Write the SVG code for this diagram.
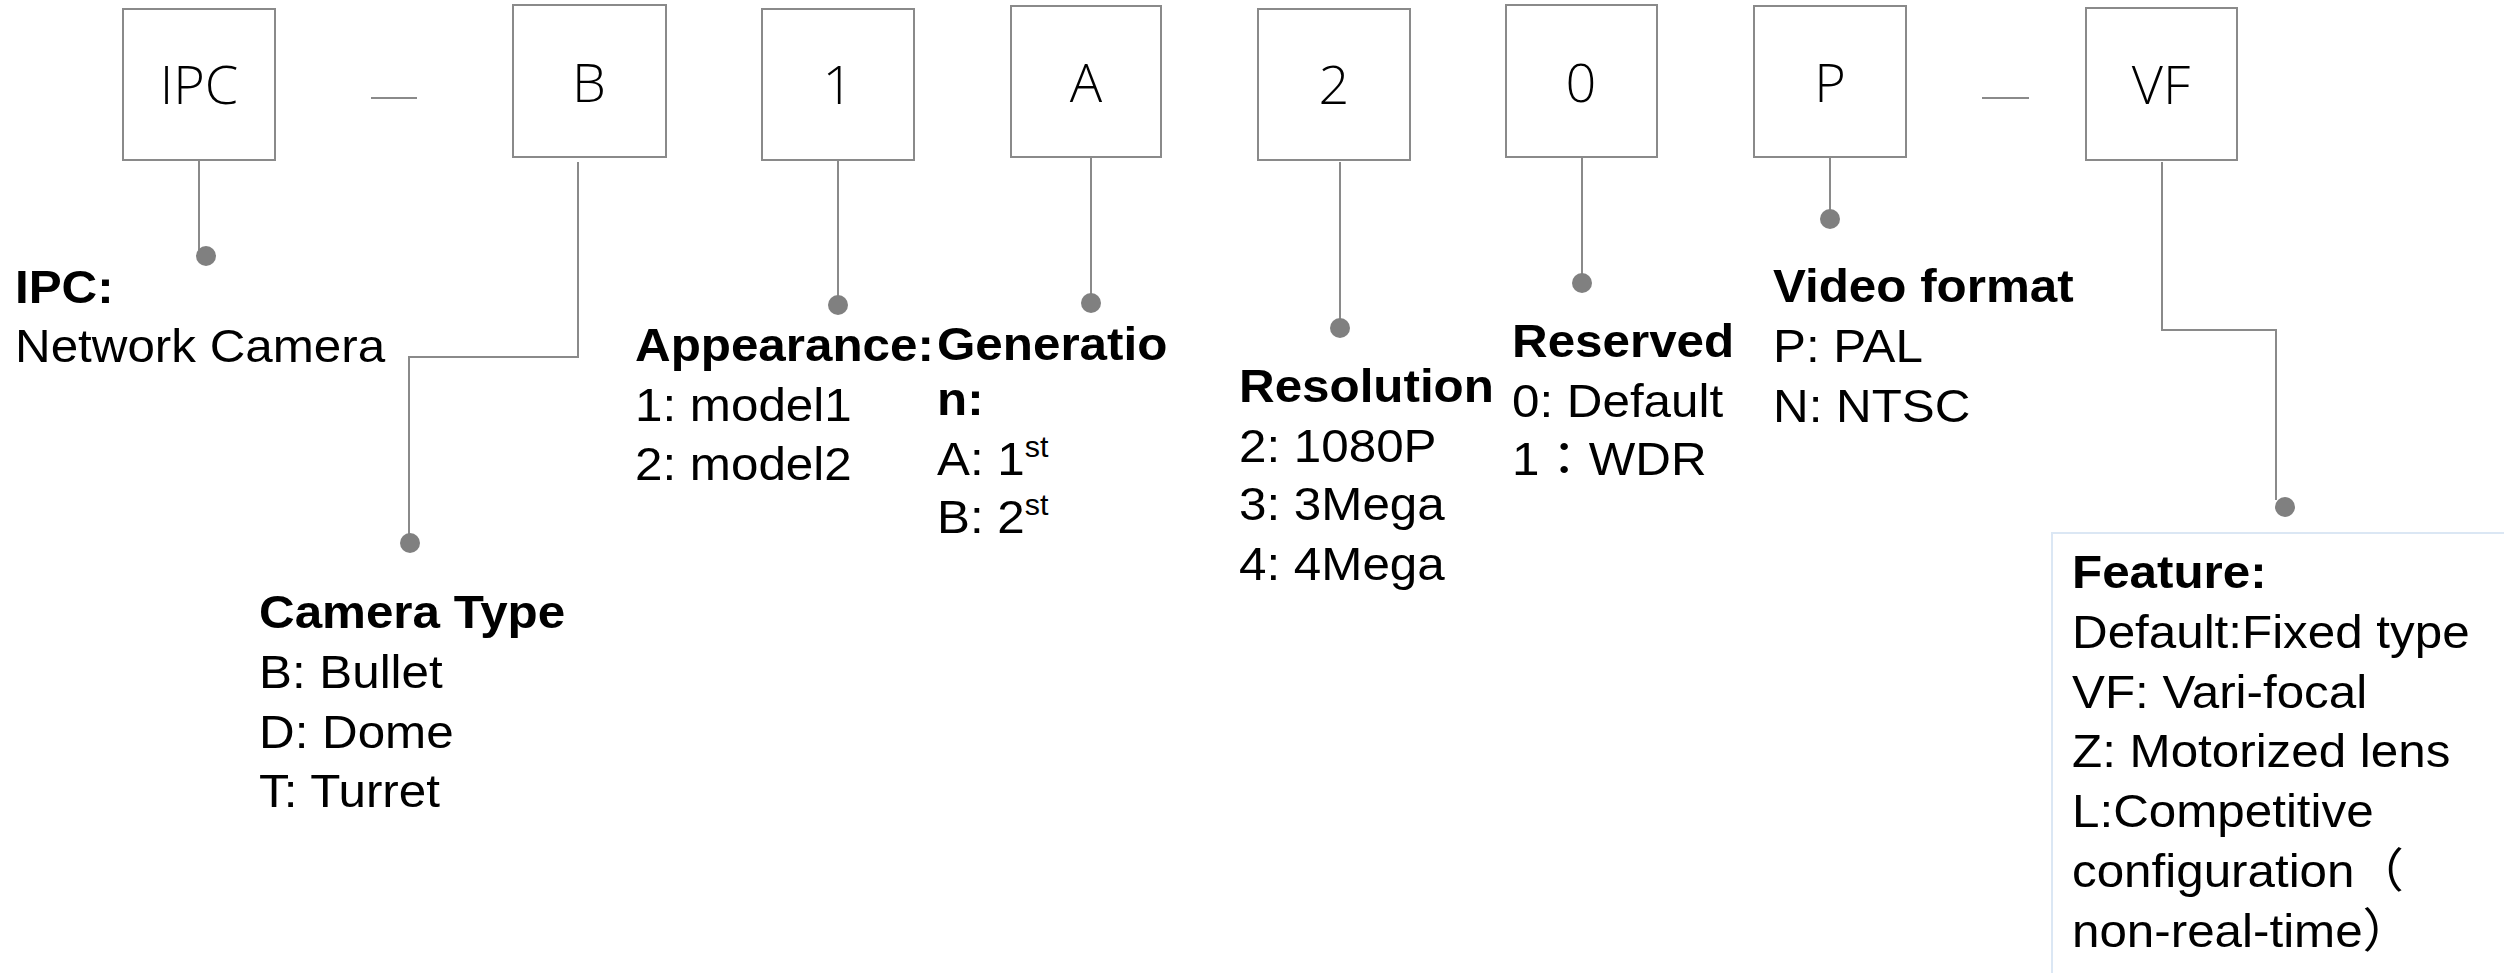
<svg xmlns="http://www.w3.org/2000/svg" width="2504" height="973" viewBox="0 0 2504 973">
<style>
.box{fill:#fff;stroke:#8a8a8a;stroke-width:2}
.code{font-family:"Open Sans","Noto Sans",sans-serif;font-weight:300;font-size:54px;fill:#000;text-anchor:middle}
.ln{fill:none;stroke:#8a8a8a;stroke-width:2}
.dot{fill:#808080}
.t{font-family:"Liberation Sans",Arial,"Noto Sans CJK JP",sans-serif;font-size:47px;fill:#000}
.b{font-weight:bold}
.sup{font-size:29px}
.fbox{fill:#fff;stroke:#dbe7f4;stroke-width:2}
</style>
<rect width="2504" height="973" fill="#fff"/>
<g id="connectors">
<path class="ln" d="M371 98H417"/>
<path class="ln" d="M1982 98H2029"/>
<path class="ln" d="M199 160V250"/>
<circle class="dot" cx="206" cy="256" r="10"/>
<path class="ln" d="M578 162V357H409V536"/>
<circle class="dot" cx="410" cy="543" r="10"/>
<path class="ln" d="M838 160V298"/>
<circle class="dot" cx="838" cy="305" r="10"/>
<path class="ln" d="M1091 157V296"/>
<circle class="dot" cx="1091" cy="303" r="10"/>
<path class="ln" d="M1340 162V321"/>
<circle class="dot" cx="1340" cy="328" r="10"/>
<path class="ln" d="M1582 157V276"/>
<circle class="dot" cx="1582" cy="283" r="10"/>
<path class="ln" d="M1830 157V212"/>
<circle class="dot" cx="1830" cy="219" r="10"/>
<path class="ln" d="M2162 162V330H2276V500"/>
<circle class="dot" cx="2285" cy="507" r="10"/>
</g>
<g id="node-ipc">
<rect class="box" x="123" y="9" width="152" height="151"/>
<text class="code" x="199" y="104">IPC</text>
</g>
<g id="node-b">
<rect class="box" x="513" y="5" width="153" height="152"/>
<text class="code" x="589" y="102">B</text>
</g>
<g id="node-1">
<rect class="box" x="762" y="9" width="152" height="151"/>
<text class="code" x="838" y="104">1</text>
</g>
<g id="node-a">
<rect class="box" x="1011" y="6" width="150" height="151"/>
<text class="code" x="1086" y="102">A</text>
</g>
<g id="node-2">
<rect class="box" x="1258" y="9" width="152" height="151"/>
<text class="code" x="1334" y="104">2</text>
</g>
<g id="node-0">
<rect class="box" x="1506" y="5" width="151" height="152"/>
<text class="code" x="1581" y="102">0</text>
</g>
<g id="node-p">
<rect class="box" x="1754" y="6" width="152" height="151"/>
<text class="code" x="1830" y="102">P</text>
</g>
<g id="node-vf">
<rect class="box" x="2086" y="8" width="151" height="152"/>
<text class="code" x="2161" y="104">VF</text>
</g>
<g id="label-ipc" transform="translate(15 0) scale(1.05 1)">
<text class="t b" x="0" y="303">IPC:</text>
<text class="t" x="0" y="362">Network Camera</text>
</g>
<g id="label-camera-type" transform="translate(259 0) scale(1.05 1)">
<text class="t b" x="0" y="628">Camera Type</text>
<text class="t" x="0" y="688">B: Bullet</text>
<text class="t" x="0" y="748">D: Dome</text>
<text class="t" x="0" y="807">T: Turret</text>
</g>
<g id="label-appearance" transform="translate(635 0) scale(1.05 1)">
<text class="t b" x="0" y="361">Appearance:</text>
<text class="t" x="0" y="421">1: model1</text>
<text class="t" x="0" y="480">2: model2</text>
</g>
<g id="label-generation" transform="translate(937 0) scale(1.05 1)">
<text class="t b" x="0" y="360">Generatio</text>
<text class="t b" x="0" y="415">n:</text>
<text class="t" x="0" y="475">A: 1<tspan class="sup" dy="-18">st</tspan></text>
<text class="t" x="0" y="533">B: 2<tspan class="sup" dy="-18">st</tspan></text>
</g>
<g id="label-resolution" transform="translate(1239 0) scale(1.05 1)">
<text class="t b" x="0" y="402">Resolution</text>
<text class="t" x="0" y="462">2: 1080P</text>
<text class="t" x="0" y="520">3: 3Mega</text>
<text class="t" x="0" y="580">4: 4Mega</text>
</g>
<g id="label-reserved" transform="translate(1512 0) scale(1.05 1)">
<text class="t b" x="0" y="357">Reserved</text>
<text class="t" x="0" y="417">0: Default</text>
<text class="t" x="0" y="475">1：WDR</text>
</g>
<g id="label-video" transform="translate(1773 0) scale(1.05 1)">
<text class="t b" x="0" y="302">Video format</text>
<text class="t" x="0" y="362">P: PAL</text>
<text class="t" x="0" y="422">N: NTSC</text>
</g>
<g id="label-feature">
<rect class="fbox" x="2052" y="533" width="470" height="460"/>
<g transform="translate(2072 0) scale(1.05 1)">
<text class="t b" x="0" y="588">Feature:</text>
<text class="t" x="0" y="648">Default:Fixed type</text>
<text class="t" x="0" y="708">VF: Vari-focal</text>
<text class="t" x="0" y="767">Z: Motorized lens</text>
<text class="t" x="0" y="827">L:Competitive</text>
<text class="t" x="0" y="887">configuration（</text>
<text class="t" x="0" y="947">non-real-time）</text>
</g>
</g>
</svg>
